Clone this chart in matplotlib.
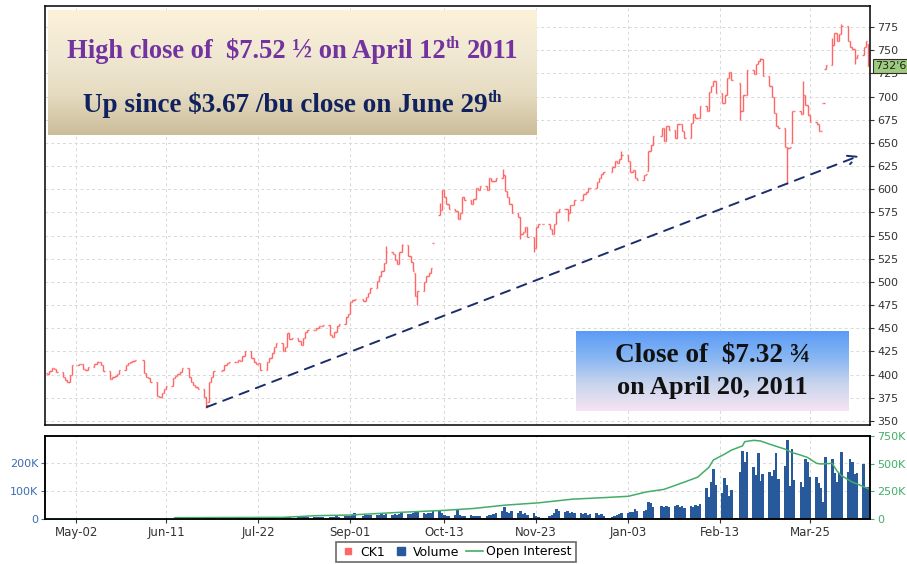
import numpy as np
import pandas as pd
import matplotlib
matplotlib.use('Agg')
import matplotlib.pyplot as plt
import matplotlib.dates as mdates
from matplotlib.colors import LinearSegmentedColormap
from matplotlib.lines import Line2D
from matplotlib.transforms import ScaledTranslation, blended_transform_factory

# trading calendar
start, end = '2010-04-19', '2011-04-20'
holidays = ['2010-05-31', '2010-07-05', '2010-09-06', '2010-11-25',
            '2010-12-24', '2011-01-17', '2011-02-21']

# daily closes (cents/bu), one line per month
closes = [401, 404, 407, 406, 403, 397, 394, 392, 400, 410,
          411, 411, 406, 405, 408, 412, 414, 414, 410, 404, 395, 397, 399, 401, 405, 410, 413, 414, 415, 416,
          402, 398, 396, 392, 377, 376, 380, 384, 388, 396, 399, 401, 403, 407, 398, 392, 389, 387, 384, 376, 367, 392,
          397, 404, 405, 410, 413, 414, 414, 416, 415, 420, 426, 418, 414, 412, 413, 405, 414, 418, 423, 430, 434,
          425, 430, 445, 438, 440, 436, 432, 440, 446, 448, 448, 450, 452, 453, 454, 443, 441, 446, 452, 455, 462, 465,
          478, 481, 482, 480, 484, 488, 494, 501, 506, 512, 520, 532, 530, 524, 519, 532, 540, 528, 522, 512, 485,
          490, 500, 506, 510, 515, 542, 578, 599, 592, 584, 579, 577, 568, 574, 592, 588, 584, 590, 601, 599, 603,
          599, 612, 609, 609, 612, 615, 598, 592, 584, 574, 570, 552, 554, 559, 548, 537, 559, 562, 562, 557, 552,
          563, 575, 579, 579, 574, 583, 583, 588, 588, 595, 597, 601, 601, 608, 612, 616, 619, 624, 630, 628, 633, 637,
          630, 619, 621, 612, 610, 615, 617, 641, 648, 657, 666, 652, 668, 664, 655, 670, 670, 663, 655, 671,
          681, 677, 677, 690, 684, 705, 711, 717, 704, 693, 702, 720, 726, 718, 684, 702, 702, 729, 724,
          735, 738, 740, 722, 711, 699, 682, 668, 666, 646, 645, 646, 684, 684, 681, 702, 691, 680, 673, 670, 663, 663, 693,
          734, 756, 769, 760, 767, 776, 760, 753, 751, 742, 745, 754, 760, 732.75]

opens = [402, 401, 404, 407, 406, 403, 397, 394, 392, 400,
         410, 411, 411, 406, 405, 408, 412, 414, 414, 410, 404, 395, 397, 399, 401, 405, 410, 413, 414, 415,
         416, 402, 398, 396, 392, 377, 376, 380, 384, 388, 396, 399, 401, 403, 407, 398, 392, 389, 387, 384, 376, 370,
         392, 397, 404, 405, 410, 413, 414, 414, 416, 415, 420, 426, 418, 414, 412, 413, 405, 414, 418, 423, 430,
         434, 425, 430, 445, 438, 440, 436, 432, 440, 446, 448, 448, 450, 452, 453, 454, 443, 441, 446, 452, 455, 462,
         465, 478, 481, 482, 480, 484, 488, 494, 501, 506, 512, 520, 532, 530, 524, 519, 532, 540, 528, 522, 510,
         485, 490, 500, 506, 510, 542, 572, 578, 599, 592, 584, 579, 577, 568, 574, 592, 588, 584, 590, 601, 599,
         603, 599, 612, 609, 609, 612, 615, 598, 592, 584, 574, 570, 552, 554, 559, 548, 537, 559, 562, 562, 557,
         552, 563, 575, 579, 579, 574, 583, 583, 588, 588, 595, 597, 601, 601, 608, 612, 616, 619, 624, 630, 628, 633,
         637, 630, 619, 621, 612, 610, 615, 620, 641, 648, 657, 666, 652, 668, 664, 655, 670, 670, 663, 655,
         671, 681, 677, 677, 690, 684, 705, 711, 717, 704, 693, 702, 720, 726, 715, 684, 702, 702, 729,
         724, 735, 738, 740, 722, 711, 699, 682, 668, 666, 646, 645, 650, 684, 684, 681, 702, 691, 680, 673, 670, 663, 693,
         730, 734, 756, 769, 760, 767, 776, 760, 753, 751, 742, 745, 754, 757]

# intraday extremes beyond open/close
extra_highs = {'2010-09-17': 539, '2010-09-24': 541, '2010-10-11': 585, '2010-11-08': 622,
               '2010-12-31': 641, '2011-03-03': 742, '2011-03-22': 717, '2011-04-04': 763,
               '2011-04-08': 778}
extra_lows = {'2010-06-29': 364, '2010-10-01': 475, '2010-11-16': 546, '2010-11-22': 532,
              '2010-12-07': 566, '2011-02-22': 675, '2011-03-15': 606, '2011-04-14': 735}

# daily volume (thousands)
volume_k = [0, 0, 0, 0, 0, 0, 0, 0, 0, 0,
            0, 0, 0, 0, 0, 0, 0, 0, 0, 0, 0, 0, 0, 0, 0, 0, 0, 0, 0, 0,
            0, 0, 0, 0, 0, 0, 0, 0, 0, 0, 1, 2, 1, 2, 2, 1, 3, 2, 2, 3, 4, 3,
            2, 3, 2, 3, 2, 3, 3, 2, 3, 4, 3, 2, 3, 3, 4, 3, 3, 4, 4, 5, 4,
            5, 6, 7, 6, 5, 6, 7, 6, 8, 7, 6, 7, 8, 7, 6, 8, 7, 8, 9, 8, 9, 10,
            12, 14, 22, 12, 14, 13, 15, 16, 14, 18, 15, 17, 16, 19, 15, 18, 20, 17, 19, 22, 28,
            25, 20, 18, 22, 20, 30, 28, 22, 14, 12, 12, 15, 32, 14, 12, 12, 14, 12, 10, 12, 10,
            12, 14, 16, 18, 20, 28, 42, 25, 22, 28, 20, 28, 18, 22, 15, 20, 10, 6, 4, 12, 15,
            20, 35, 30, 25, 28, 22, 25, 20, 22, 18, 20, 15, 18, 20, 16, 18, 12, 8, 12, 14, 18, 20,
            22, 25, 24, 35, 30, 28, 33, 62, 58, 42, 46, 44, 48, 42, 45, 50, 42, 46, 40, 48,
            44, 50, 46, 52, 110, 80, 133, 177, 121, 92, 145, 121, 82, 104, 169, 244, 205, 238, 187,
            157, 234, 137, 161, 169, 153, 175, 234, 142, 189, 280, 118, 249, 139, 133, 115, 213, 205, 151, 149, 130, 110, 62,
            222, 213, 165, 133, 163, 240, 169, 213, 205, 161, 165, 196, 113, 113]

# open interest (thousands)
oi_dates = ['2010-04-19', '2010-06-14', '2010-06-15', '2010-08-02', '2010-08-17', '2010-09-01',
            '2010-09-23', '2010-10-12', '2010-10-26', '2010-11-09', '2010-11-24', '2010-12-09',
            '2010-12-23', '2011-01-03', '2011-01-11', '2011-01-19', '2011-01-28', '2011-02-03',
            '2011-02-08', '2011-02-10', '2011-02-15', '2011-02-18', '2011-02-23', '2011-02-24',
            '2011-02-28', '2011-03-03', '2011-03-08', '2011-03-14', '2011-03-17', '2011-03-21',
            '2011-03-24', '2011-03-28', '2011-03-30', '2011-04-04', '2011-04-06', '2011-04-08',
            '2011-04-13', '2011-04-15', '2011-04-20']
oi_k = [0, 0, 12, 15, 30, 36, 60, 77, 95, 125, 146, 179, 193, 205, 244, 268, 333, 378,
        467, 533, 586, 622, 661, 699, 711, 705, 670, 631, 601, 577, 556, 503, 497, 503,
        437, 393, 333, 318, 274]

tick_dates = ['2010-05-02', '2010-06-11', '2010-07-22', '2010-09-01', '2010-10-13',
              '2010-11-23', '2011-01-03', '2011-02-13', '2011-03-25']
price_ticks = list(range(350, 776, 25))
last_price, last_label = 732.75, "732'6"

RED = '#ff6666'
BLUE = '#28599b'
GREEN = '#43ad68'
GRID = dict(color='#d8d8d8', linestyle=(0, (3, 3)), linewidth=0.7)

days = pd.bdate_range(start, end)
days = days[~days.isin(pd.to_datetime(holidays))]
x = mdates.date2num(days)
o = np.array(opens, dtype=float)
c = np.array(closes, dtype=float)
hi = np.maximum(o, c)
lo = np.minimum(o, c)
for d, v in extra_highs.items():
    hi[days.get_loc(pd.Timestamp(d))] = v
for d, v in extra_lows.items():
    lo[days.get_loc(pd.Timestamp(d))] = v

fig = plt.figure(figsize=(9.07, 5.64), dpi=100)
W, H = 907, 564
ax = fig.add_axes([45 / W, 1 - 425 / H, 825 / W, 419 / H])
axv = fig.add_axes([45 / W, 1 - 519 / H, 825 / W, 83 / H])
axo = axv.twinx()

xmin = mdates.date2num(pd.Timestamp('2010-04-18'))
xmax = mdates.date2num(pd.Timestamp('2011-04-20 20:00'))
tick_x = mdates.date2num(pd.to_datetime(tick_dates))

# price bars
ax.vlines(x, lo, hi, color=RED, lw=1.0)
ax.hlines(o, x - 0.6, x, color=RED, lw=1.0)
ax.hlines(c, x, x + 0.6, color=RED, lw=1.0)
ax.set_xlim(xmin, xmax)
ax.set_ylim(345.7, 797.7)
ax.set_xticks(tick_x)
ax.tick_params(axis='x', length=0, labelbottom=False)
ax.yaxis.tick_right()
ax.set_yticks(price_ticks)
ax.tick_params(axis='y', labelsize=8, colors='#333333', length=3, pad=2)
ax.grid(True, **GRID)
ax.set_axisbelow(True)
for s in ax.spines.values():
    s.set_color('black')
    s.set_linewidth(1.1)

# trend arrow
ax.annotate('', xy=(mdates.date2num(pd.Timestamp('2011-04-17')), 637),
            xytext=(mdates.date2num(pd.Timestamp('2010-06-28')), 364),
            arrowprops=dict(arrowstyle='->', color='#1b2d6b', lw=1.4,
                            linestyle=(0, (5, 4)), mutation_scale=16))

# last price tag
ax.text(1.006, last_price, last_label, transform=blended_transform_factory(ax.transAxes, ax.transData),
        ha='left', va='center', fontsize=8, color='#222222', clip_on=False, zorder=10,
        bbox=dict(boxstyle='square,pad=0.2', fc='#9fcb7e', ec='#2f2f2f', lw=0.8))

# volume + open interest
axv.bar(x, np.array(volume_k) * 1000, width=1.15, color=BLUE, lw=0)
axv.set_xlim(xmin, xmax)
axv.set_ylim(0, 296000)
axv.set_yticks([0, 100000, 200000])
axv.set_yticklabels(['0', '100K', '200K'])
axv.tick_params(axis='y', labelsize=8, colors='#3b6db3', length=3, pad=2)
axv.set_xticks(tick_x)
axv.xaxis.set_major_formatter(mdates.DateFormatter('%b-%d'))
axv.tick_params(axis='x', labelsize=8.5, colors='#333333', length=3, pad=2)
axv.grid(True, **GRID)
axv.set_axisbelow(True)
oi_x = mdates.date2num(pd.to_datetime(oi_dates))
axo.plot(oi_x, np.array(oi_k) * 1000, color=GREEN, lw=1.1)
axo.set_ylim(0, 750000)
axo.set_yticks([0, 250000, 500000, 750000])
axo.set_yticklabels(['0', '250K', '500K', '750K'])
axo.tick_params(axis='y', labelsize=8, colors=GREEN, length=3, pad=2)
axo.set_xlim(xmin, xmax)
for a in (axv, axo):
    for s in a.spines.values():
        s.set_color('black')
        s.set_linewidth(1.1)

# legend
handles = [Line2D([], [], marker='s', ls='', color=RED, ms=5),
           Line2D([], [], marker='s', ls='', color=BLUE, ms=6),
           Line2D([], [], color=GREEN, lw=1.2)]
leg = fig.legend(handles, ['CK1', 'Volume', 'Open Interest'], loc='center',
                 bbox_to_anchor=(456 / W, 1 - 552 / H), ncol=3, fontsize=9,
                 frameon=True, fancybox=False, edgecolor='#444444',
                 handlelength=1.3, handletextpad=0.3, columnspacing=0.6, borderpad=0.3)
leg.get_frame().set_linewidth(1.2)


def gradient_box(rect, colors):
    bax = fig.add_axes(rect, zorder=5)
    cmap = LinearSegmentedColormap.from_list('g', colors)
    bax.imshow(np.linspace(0, 1, 256).reshape(-1, 1), cmap=cmap, aspect='auto',
               extent=[0, 1, 0, 1])
    bax.set_xlim(0, 1)
    bax.set_ylim(0, 1)
    bax.axis('off')
    return bax


def rich_line(bax, yfrac, pieces, size, color):
    r = fig.canvas.get_renderer()
    bw = bax.get_window_extent(r).width
    items, total = [], 0
    for s, rel, rise, pad in pieces:
        tr = bax.transAxes + ScaledTranslation(0, rise * size / 72, fig.dpi_scale_trans)
        t = bax.text(0, yfrac, s, transform=tr, fontsize=size * rel, fontweight='bold',
                     family='Liberation Serif', color=color, va='baseline', ha='left')
        w = t.get_window_extent(r).width
        padpx = pad * size * fig.dpi / 72
        items.append((t, w, padpx))
        total += w + padpx
    xpos = 0.5 - total / bw / 2
    for t, w, padpx in items:
        xpos += padpx / bw
        t.set_x(xpos)
        xpos += w / bw


b1 = gradient_box([48 / W, 1 - 135 / H, 489 / W, 125 / H], ['#fdf1d9', '#f1e9d4', '#e6dcc2', '#cbbd99'])
rich_line(b1, 0.615, [('High close of  $7.52 ½ on April 12', 1, 0, 0),
                      ('th', 0.6, 0.38, 0.02), ('2011', 1, 0, 0.25)], 19.1, '#7232a0')
rich_line(b1, 0.18, [('Up since $3.67 /bu close on June 29', 1, 0, 0),
                     ('th', 0.6, 0.38, 0.02)], 19.5, '#10215e')

b2 = gradient_box([576 / W, 1 - 411 / H, 273 / W, 80 / H], ['#5b9bf7', '#88b6f2', '#c9d5ec', '#f6e4f4'])
rich_line(b2, 0.617, [('Close of  $7.32 ¾', 1, 0, 0)], 19.6, '#111111')
rich_line(b2, 0.21, [('on April 20, 2011', 1, 0, 0)], 19, '#111111')

fig.savefig('out.png', dpi=100)
